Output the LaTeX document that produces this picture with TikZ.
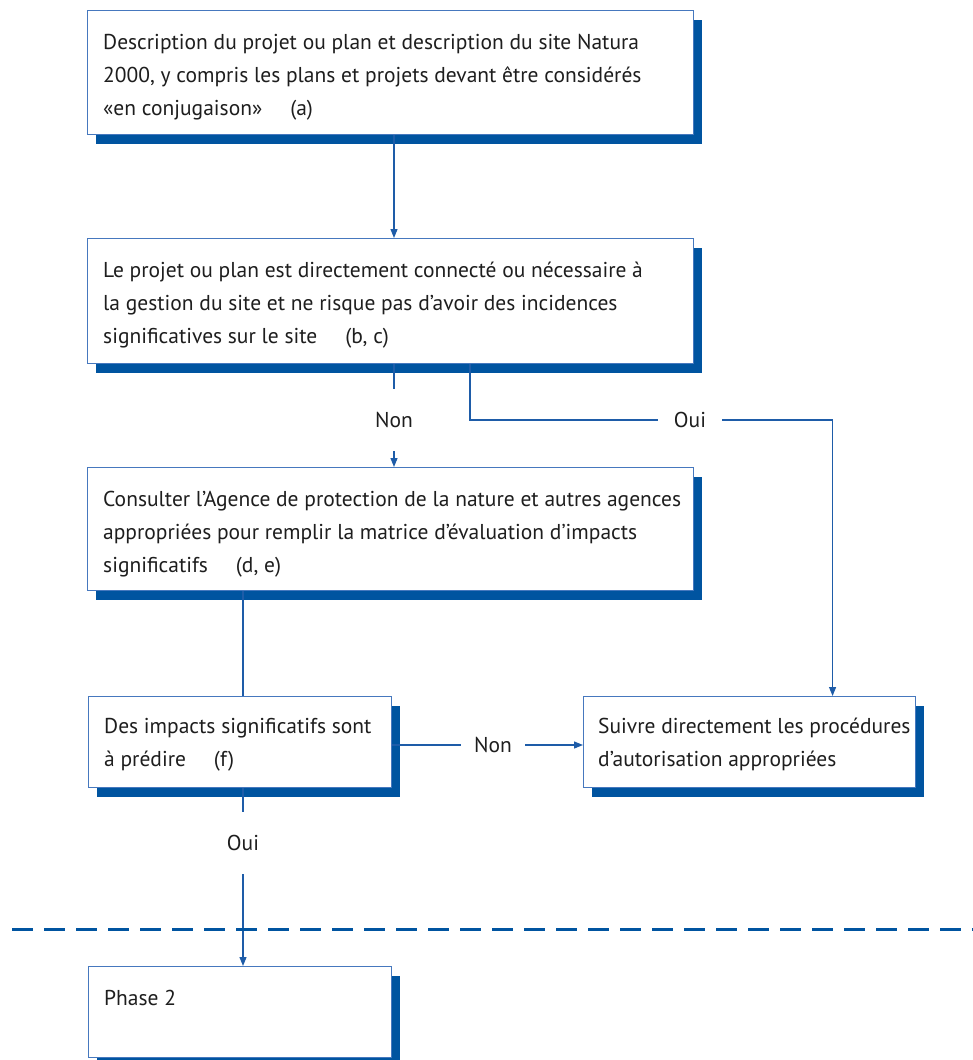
\documentclass[tikz,border=0pt]{standalone}
\usepackage{fontspec}
\setmainfont{PT Sans}
\usepackage{xcolor}
\usepackage{tikz}
\usetikzlibrary{positioning,calc,shadows,arrows.meta}

\definecolor{shadowblue}{RGB}{0,84,160}
\definecolor{lineblue}{RGB}{30,92,168}
\definecolor{edgeblue}{RGB}{70,120,190}
\definecolor{textgray}{RGB}{30,30,30}

\tikzset{
	stepbox/.style={draw=edgeblue, line width=1.1pt, fill=white, inner sep=0pt,
		drop shadow={shadow xshift=8.5pt, shadow yshift=-9pt, fill=shadowblue, opacity=1}},
	boxtext/.style={anchor=north west, inner sep=0pt, align=left, text=textgray,
		font=\fontsize{21.5}{33}\selectfont},
	answer/.style={minimum width=64pt, minimum height=62pt, inner sep=0pt, text=textgray,
		font=\fontsize{21.5}{33}\selectfont},
	link/.style={draw=lineblue, line width=1.2pt},
	linkarrow/.style={link, -{Triangle[length=9pt,width=7pt]}}
}

\begin{document}
\begin{tikzpicture}[x=1pt,y=-1pt]
	\useasboundingbox (0,0) rectangle (973,1060);
	\def\gap{\hspace{1.3em}}
	% boxes
	\node[stepbox, anchor=north west, minimum width=606pt, minimum height=124pt] (descr) at (87,10) {};
	\node[stepbox, anchor=north west, minimum width=606pt, minimum height=125pt] (gestion) at (87,238) {};
	\node[stepbox, anchor=north west, minimum width=606pt, minimum height=123pt] (consult) at (87,467) {};
	\node[stepbox, anchor=north west, minimum width=303pt, minimum height=91pt] (impacts) at (88,696) {};
	\node[stepbox, anchor=north west, minimum width=332pt, minimum height=91pt] (suivre) at (583,696) {};
	\node[stepbox, anchor=north west, minimum width=303pt, minimum height=91pt] (phase) at (88,966) {};
	% texts
	\node[boxtext] (descrtxt) at ($(descr.north west)+(16,24)$) {Description du projet ou plan et description du site Natura\\2000, y compris les plans et projets devant être considérés\\«en conjugaison»\gap(a)};
	\node[boxtext] (gestiontxt) at ($(gestion.north west)+(16,24)$) {Le projet ou plan est directement connecté ou nécessaire à\\la gestion du site et ne risque pas d’avoir des incidences\\significatives sur le site\gap(b, c)};
	\node[boxtext] (consulttxt) at ($(consult.north west)+(16,24)$) {Consulter l’Agence de protection de la nature et autres agences\\appropriées pour remplir la matrice d’évaluation d’impacts\\significatifs\gap(d, e)};
	\node[boxtext] (impactstxt) at ($(impacts.north west)+(16,22)$) {Des impacts significatifs sont\\à prédire\gap(f)};
	\node[boxtext] (suivretxt) at ($(suivre.north west)+(15,22)$) {Suivre directement les procédures\\d’autorisation appropriées};
	\node[boxtext] (phasetxt) at ($(phase.north west)+(16,24)$) {Phase 2};
	% answers
	\node[answer] (non1) at (394,420) {Non};
	\node[answer] (oui1) at (690,420) {Oui};
	\node[answer] (non2) at (493,745) {Non};
	\node[answer] (oui2) at (243,843) {Oui};
	\coordinate (fork) at (470,420);
	% connectors
	\draw[linkarrow] (descr.south -| non1) -- (gestion.north -| non1);
	\draw[link] (gestion.south -| non1) -- (non1.north);
	\draw[linkarrow] (non1.south) -- (consult.north -| non1);
	\draw[link] (gestion.south -| fork) -- (fork) -- (oui1.west);
	\draw[linkarrow] (oui1.east) -| ($(suivre.north)+(83,0)$);
	\draw[link] (consult.south -| oui2) -- (impacts.north -| oui2);
	\draw[link] (impacts.east |- non2) -- (non2.west);
	\draw[linkarrow] (non2.east) -- (suivre.west |- non2);
	\draw[link] (impacts.south -| oui2) -- (oui2.north);
	\draw[linkarrow] (oui2.south) -- (phase.north -| oui2);
	% phase limit
	\draw[draw=shadowblue, line width=3pt, dash pattern=on 21pt off 11pt] (12,929) -- (973,929);
\end{tikzpicture}
\end{document}
